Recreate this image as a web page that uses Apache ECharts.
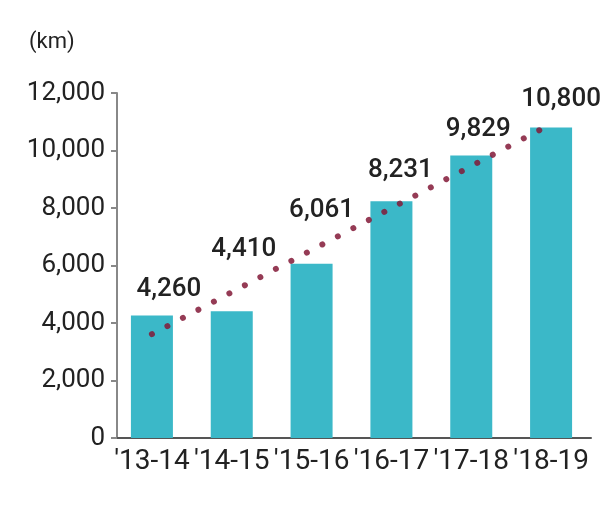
<!DOCTYPE html>
<html>
<head>
<meta charset="utf-8">
<script src="https://cdn.jsdelivr.net/npm/echarts@6/dist/echarts.min.js"></script>
<style>html,body{margin:0;padding:0;background:#fff;}#c{width:602px;height:530px;}</style>
</head>
<body>
<div id="c"></div>
<script>
var categories = ["'13-14", "'14-15", "'15-16", "'16-17", "'17-18", "'18-19"];
var lengthKm = [4260, 4410, 6061, 8231, 9829, 10800];
var trendValues = [3610, null, null, null, null, 10920];
var yTicks = [0, 2000, 4000, 6000, 8000, 10000, 12000];

// label nudges (layout only, pixels)
var labelNudgeX = [17, 12, 10, 9, 7, 10];
var labelNudgeY = [-8, -44, -35, -13, -8, -10];

var FONT = 'Roboto, "Noto Sans", sans-serif';
var chart = echarts.init(document.getElementById('c'), null, {renderer: 'canvas'});

var barData = lengthKm.map(function (v, i) {
  return {
    value: v,
    label: {offset: [labelNudgeX[i], labelNudgeY[i]]}
  };
});

chart.setOption({
  animation: false,
  backgroundColor: '#fff',
  graphic: [{
    type: 'text', left: 29, top: 31,
    style: {text: '(km)', font: '400 22px ' + FONT, fill: '#222'}
  }],
  grid: {left: 112, right: 11, top: 93, bottom: 92, containLabel: false},
  xAxis: {
    type: 'category',
    data: categories,
    axisLine: {lineStyle: {color: '#555', width: 2}},
    axisTick: {show: false},
    axisLabel: {color: '#222', fontSize: 28, fontFamily: FONT, margin: 10, interval: 0}
  },
  yAxis: {
    type: 'value',
    min: yTicks[0], max: yTicks[yTicks.length - 1], interval: 2000,
    offset: -5,
    axisLine: {show: true, lineStyle: {color: '#888', width: 2}},
    axisTick: {show: true, length: 6, lineStyle: {color: '#888', width: 2}},
    splitLine: {show: false},
    axisLabel: {
      color: '#222', fontSize: 26, fontFamily: FONT, margin: 12,
      formatter: function (v) { return v.toLocaleString('en-US'); }
    }
  },
  series: [{
    type: 'bar',
    data: barData,
    barWidth: 42,
    itemStyle: {color: '#3BB8C8'},
    label: {
      show: true, position: 'top', distance: 5,
      color: '#222', fontSize: 26, fontWeight: 500, fontFamily: FONT,
      formatter: function (p) { return p.value.toLocaleString('en-US'); }
    },
    z: 2
  }, {
    type: 'line',
    data: trendValues,
    connectNulls: true,
    symbol: 'none',
    lineStyle: {color: 'rgba(130,25,55,0.85)', width: 6, type: [0.01, 17.5], cap: 'round'},
    z: 3
  }]
});
</script>
</body>
</html>
